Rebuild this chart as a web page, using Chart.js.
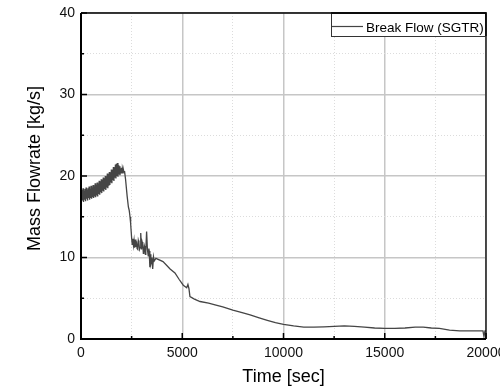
<!DOCTYPE html>
<html lang="en">

<head>
    <meta charset="UTF-8">
    <title>Break Flow (SGTR)</title>
    <script src="https://cdn.jsdelivr.net/npm/chart.js"></script>
    <style>
        body { margin: 0; background: #fff; }
    </style>
</head>

<body>

    <canvas id="flowChart" width="500" height="390"></canvas>

    <script>
        const timeSec = [
            0, 25, 50, 75, 100, 125, 150, 175, 200, 225,
            250, 275, 300, 325, 350, 375, 400, 425, 450, 475,
            500, 525, 550, 575, 600, 625, 650, 675, 700, 725,
            750, 775, 800, 825, 850, 875, 900, 925, 950, 975,
            1000, 1025, 1050, 1075, 1100, 1125, 1150, 1175, 1200, 1225,
            1250, 1275, 1300, 1325, 1350, 1375, 1400, 1425, 1450, 1475,
            1500, 1525, 1550, 1575, 1600, 1625, 1650, 1675, 1700, 1725,
            1750, 1775, 1800, 1825, 1850, 1875, 1900, 1925, 1950, 1975,
            2000, 2025, 2050, 2075, 2100, 2125, 2150, 2200, 2280, 2340,
            2380, 2420, 2450, 2500, 2530, 2560, 2590, 2620, 2650, 2680,
            2710, 2740, 2770, 2800, 2830, 2860, 2890, 2920, 2950, 2990,
            3020, 3050, 3080, 3100, 3130, 3150, 3180, 3200, 3240, 3280,
            3320, 3350, 3370, 3400, 3430, 3450, 3470, 3500, 3540, 3580,
            3620, 3700, 4050, 4400, 4640, 4850, 5050, 5220, 5280, 5330,
            5380, 5600, 5880, 6300, 6620, 7000, 7500, 8000, 8350, 8800,
            9200, 9600, 10000, 10500, 11000, 11500, 12000, 12500, 13000, 13500,
            14000, 14500, 15000, 15500, 16000, 16500, 16900, 17300, 17700, 18200,
            18700, 19300, 19850, 19900, 19950, 20000
        ];
        const massFlow = [
            17.6, 16.9, 18.3, 17.0, 18.5, 16.8, 18.2, 17.1, 18.4, 16.9,
            18.6, 17.2, 18.3, 17.0, 18.5, 17.3, 18.7, 17.1, 18.4, 17.3,
            18.8, 17.2, 18.6, 17.4, 18.9, 17.3, 18.7, 17.5, 19.1, 17.4,
            18.9, 17.6, 19.2, 17.5, 19.0, 17.8, 19.4, 17.7, 19.3, 18.0,
            19.6, 17.9, 19.5, 18.2, 19.8, 18.1, 19.7, 18.4, 20.0, 18.3,
            19.9, 18.6, 20.3, 18.5, 20.2, 18.8, 20.5, 18.9, 20.4, 19.2,
            20.8, 19.1, 20.7, 19.5, 21.1, 19.4, 21.0, 19.8, 21.4, 19.7,
            21.5, 20.0, 21.6, 19.9, 21.3, 20.2, 21.2, 20.1, 20.9, 20.3,
            21.0, 20.4, 20.8, 20.5, 20.7, 20.4, 20.6, 19.6, 17.5, 16.2,
            15.8, 15.0, 14.2, 12.4, 11.6, 12.3, 11.5, 12.1, 11.2, 12.2,
            11.3, 12.0, 11.1, 11.0, 12.1, 11.8, 11.0, 11.2, 13.0, 11.0,
            11.9, 11.6, 10.5, 10.6, 11.4, 11.2, 10.4, 10.8, 13.2, 11.0,
            10.2, 11.1, 10.8, 8.8, 10.4, 9.2, 9.4, 10.0, 8.6, 10.1,
            9.6, 9.9, 9.5, 8.6, 8.1, 7.3, 6.6, 6.3, 6.7, 6.2,
            5.2, 4.9, 4.6, 4.4, 4.2, 3.95, 3.55, 3.2, 2.95, 2.6,
            2.3, 2.0, 1.8, 1.6, 1.45, 1.45, 1.5, 1.55, 1.6, 1.55,
            1.45, 1.35, 1.3, 1.3, 1.35, 1.45, 1.45, 1.35, 1.3, 1.1,
            1.0, 1.0, 1.0, 0.3, 1.0, 1.0
        ];
        const seriesLabel = 'Break Flow (SGTR)';
        const xTitle = 'Time [sec]';
        const yTitle = 'Mass Flowrate [kg/s]';

        const FONT = '"Liberation Sans", Arial, sans-serif';

        function isMajorX(v) { return v % 5000 === 0; }
        function isMajorY(v) { return v % 10 === 0; }

        // frame, inward ticks, y title and legend box
        const framePlugin = {
            id: 'frame',
            afterDraw(chart) {
                const ctx = chart.ctx;
                const a = chart.chartArea;
                const xs = chart.scales.x;
                const ys = chart.scales.y;
                ctx.save();
                ctx.strokeStyle = '#000';

                // inward tick marks
                ctx.lineWidth = 1.5;
                ctx.beginPath();
                xs.ticks.forEach(t => {
                    const px = xs.getPixelForValue(t.value);
                    const len = isMajorX(t.value) ? 6 : 3;
                    ctx.moveTo(px, a.bottom);
                    ctx.lineTo(px, a.bottom - len);
                });
                ys.ticks.forEach(t => {
                    const py = ys.getPixelForValue(t.value);
                    const len = isMajorY(t.value) ? 6 : 3;
                    ctx.moveTo(a.left, py);
                    ctx.lineTo(a.left + len, py);
                });
                ctx.stroke();

                // top and right border (thin)
                ctx.lineWidth = 1.3;
                ctx.beginPath();
                ctx.moveTo(a.left, a.top);
                ctx.lineTo(a.right, a.top);
                ctx.lineTo(a.right, a.bottom);
                ctx.stroke();

                // left and bottom axis (thick)
                ctx.lineWidth = 2;
                ctx.beginPath();
                ctx.moveTo(a.left, a.top);
                ctx.lineTo(a.left, a.bottom);
                ctx.lineTo(a.right, a.bottom);
                ctx.stroke();

                // y axis title
                ctx.fillStyle = '#000';
                ctx.font = '18px ' + FONT;
                ctx.textAlign = 'center';
                ctx.textBaseline = 'middle';
                ctx.translate(35, 168.5);
                ctx.rotate(-Math.PI / 2);
                ctx.fillText(yTitle, 0, 0);
                ctx.setTransform(1, 0, 0, 1, 0, 0);

                // legend
                const boxL = a.right - 155, boxT = a.top, boxB = a.top + 23;
                ctx.fillStyle = '#fff';
                ctx.fillRect(boxL, boxT, a.right - boxL, boxB - boxT);
                ctx.lineWidth = 1;
                ctx.strokeStyle = '#333';
                ctx.strokeRect(boxL + 0.5, boxT + 0.5, a.right - boxL - 1, boxB - boxT);
                ctx.strokeStyle = '#444';
                ctx.lineWidth = 1.2;
                ctx.beginPath();
                ctx.moveTo(boxL + 1, boxT + 13.5);
                ctx.lineTo(boxL + 32, boxT + 13.5);
                ctx.stroke();
                ctx.fillStyle = '#000';
                ctx.font = '13.5px ' + FONT;
                ctx.textAlign = 'left';
                ctx.textBaseline = 'alphabetic';
                ctx.fillText(seriesLabel, boxL + 35, boxT + 18.5);

                // redraw frame over legend edge
                ctx.strokeStyle = '#000';
                ctx.lineWidth = 1.3;
                ctx.beginPath();
                ctx.moveTo(boxL, a.top);
                ctx.lineTo(a.right, a.top);
                ctx.lineTo(a.right, boxB);
                ctx.stroke();
                ctx.restore();
            }
        };

        const ctx = document.getElementById('flowChart').getContext('2d');
        new Chart(ctx, {
            type: 'line',
            data: {
                datasets: [{
                    label: seriesLabel,
                    data: timeSec.map((t, i) => ({ x: t, y: massFlow[i] })),
                    borderColor: '#454545',
                    borderWidth: 1.3,
                    pointRadius: 0,
                    tension: 0,
                    fill: false
                }]
            },
            options: {
                responsive: false,
                animation: false,
                layout: { padding: { top: 13, right: 14, left: 0, bottom: 0 } },
                plugins: {
                    legend: { display: false },
                    tooltip: { enabled: false }
                },
                scales: {
                    x: {
                        type: 'linear',
                        min: 0,
                        max: 20000,
                        afterFit(scale) {
                            scale.height = 51;
                            scale.paddingLeft = 0;
                            scale.paddingRight = 0;
                        },
                        ticks: {
                            stepSize: 2500,
                            autoSkip: false,
                            maxRotation: 0,
                            padding: 6,
                            color: '#111',
                            font: { family: FONT, size: 14 },
                            callback: v => isMajorX(v) ? String(v) : ''
                        },
                        grid: {
                            drawTicks: false,
                            color: c => isMajorX(c.tick.value) ? '#c6c6c6' : '#dcdcdc',
                            lineWidth: c => isMajorX(c.tick.value) ? 1.5 : 1
                        },
                        border: {
                            display: false,
                            dash: c => (c.tick && !isMajorX(c.tick.value)) ? [1, 2] : []
                        },
                        title: {
                            display: true,
                            text: xTitle,
                            color: '#000',
                            font: { family: FONT, size: 18 },
                            padding: { top: 0, bottom: 2 }
                        }
                    },
                    y: {
                        min: 0,
                        max: 40,
                        afterFit(scale) {
                            scale.width = 81;
                            scale.paddingTop = 0;
                            scale.paddingBottom = 0;
                        },
                        ticks: {
                            stepSize: 5,
                            autoSkip: false,
                            padding: 6,
                            color: '#111',
                            font: { family: FONT, size: 14 },
                            callback: v => isMajorY(v) ? String(v) : ''
                        },
                        grid: {
                            drawTicks: false,
                            color: c => isMajorY(c.tick.value) ? '#c6c6c6' : '#dcdcdc',
                            lineWidth: c => isMajorY(c.tick.value) ? 1.5 : 1
                        },
                        border: {
                            display: false,
                            dash: c => (c.tick && !isMajorY(c.tick.value)) ? [1, 2] : []
                        }
                    }
                }
            },
            plugins: [framePlugin]
        });
    </script>

</body>

</html>
